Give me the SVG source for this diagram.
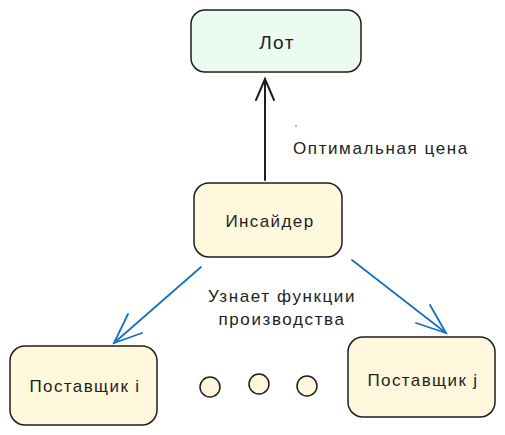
<svg xmlns="http://www.w3.org/2000/svg" width="505" height="435" viewBox="0 0 505 435">
<defs>
<style>
.box{stroke:#1e1e1e;stroke-width:1.5;}
.y{fill:#fff8dc;}
.g{fill:#ebfbf0;}
.t{font-family:"Liberation Sans",Arial,sans-serif;font-size:17px;letter-spacing:1.4px;fill:#1e1e1e;text-anchor:middle;dominant-baseline:central;}
.lbl{font-family:"Liberation Sans",Arial,sans-serif;font-size:17px;letter-spacing:1.6px;fill:#1e1e1e;}
.blk{stroke:#1e1e1e;stroke-width:2;fill:none;stroke-linecap:round;}
.blu{stroke:#1971c2;stroke-width:1.8;fill:none;stroke-linecap:round;}
</style>
</defs>
<g id="connectors">
<line class="blk" x1="265" y1="180" x2="265" y2="79"/>
<polyline class="blk" points="256,100 265,79 274,100"/>
<line class="blu" x1="201" y1="267" x2="114" y2="343"/>
<polyline class="blu" points="128,314 114,343 142,333"/>
<line class="blu" x1="352" y1="260" x2="446" y2="333"/>
<polyline class="blu" points="416,323 446,333 430,305"/>
</g>
<g id="lot">
<rect class="box g" x="191" y="10" width="170" height="62" rx="14"/>
<text class="t" x="277" y="42" style="font-size:19px">Лот</text>
</g>
<g id="insider">
<rect class="box y" x="194" y="183" width="148" height="74" rx="15"/>
<text class="t" x="270" y="221">Инсайдер</text>
</g>
<g id="supplier-i">
<rect class="box y" x="10" y="346" width="147" height="79" rx="15"/>
<text class="t" x="85" y="386">Поставщик i</text>
</g>
<g id="supplier-j">
<rect class="box y" x="348" y="337" width="147" height="80" rx="15"/>
<text class="t" x="423" y="380">Поставщик j</text>
</g>
<g id="dots">
<circle class="box y" cx="210" cy="387" r="10"/>
<circle class="box y" cx="259" cy="384" r="10"/>
<circle class="box y" cx="307" cy="386" r="10"/>
</g>
<g id="labels">
<circle cx="296" cy="126" r="0.8" fill="#1971c2"/>
<text class="lbl" x="293" y="154">Оптимальная цена</text>
<text class="lbl" x="282" y="302" text-anchor="middle">Узнает функции</text>
<text class="lbl" x="282" y="325" text-anchor="middle">производства</text>
</g>
</svg>
